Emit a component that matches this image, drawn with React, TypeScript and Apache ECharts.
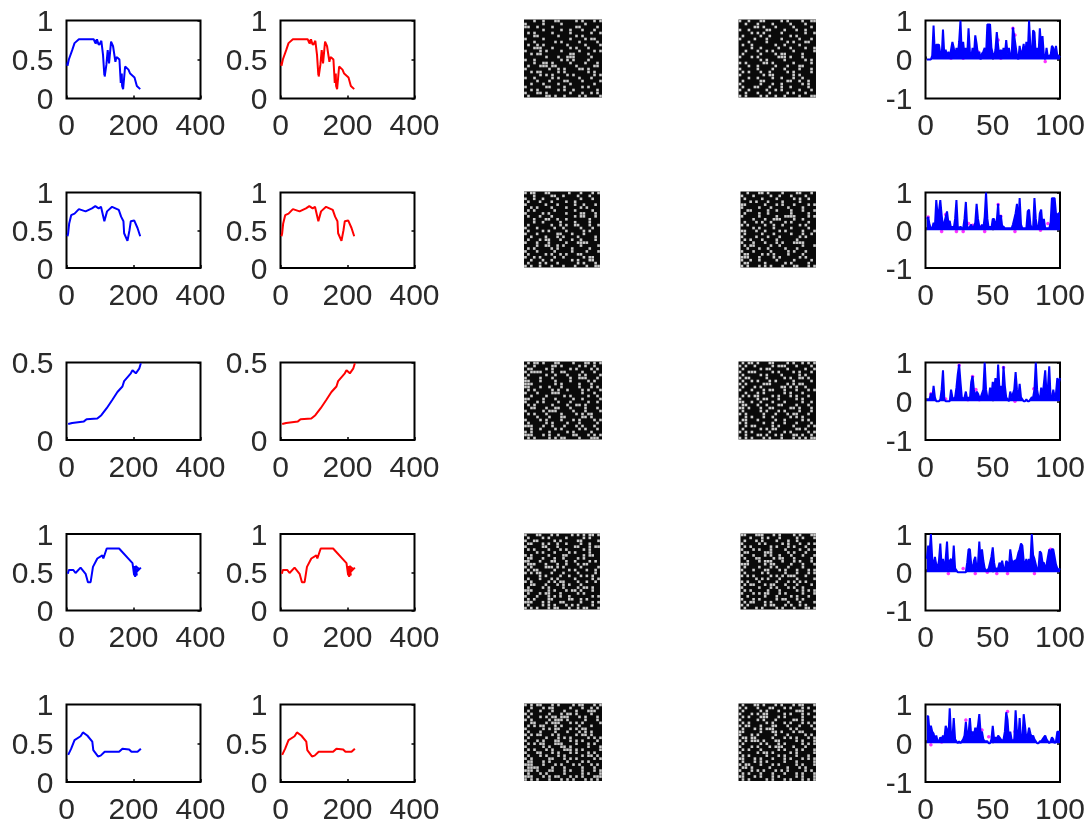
import React, { useEffect, useRef } from "react";
import * as echarts from "echarts";

const curve1: number[][] = [[2,.42],[4,.47],[3,.42],[7,.5],[17,.62],[24,.71],[37,.76],[81,.76],[86,.71],[88,.75],[87,.7],[91,.76],[95,.7],[98,.69],[104,.74],[109,.56],[113,.3],[115,.36],[114,.28],[119,.43],[123,.62],[127,.45],[133,.73],[139,.67],[146,.47],[149,.53],[153,.52],[158,.5],[162,.2],[163,.28],[165,.32],[166,.16],[169,.12],[175,.41],[185,.37],[190,.32],[203,.27],[210,.16],[220,.12]];
const curve2: number[][] = [[3,.42],[5,.46],[8,.59],[14,.7],[24,.72],[37,.78],[57,.75],[76,.79],[86,.82],[96,.79],[103,.81],[113,.62],[121,.75],[136,.81],[156,.77],[163,.68],[170,.62],[172,.46],[182,.36],[188,.5],[192,.62],[202,.63],[212,.53],[220,.42]];
const curve3: number[][] = [[5,.103],[17,.11],[52,.12],[60,.134],[92,.138],[104,.16],[120,.205],[137,.26],[152,.31],[167,.345],[172,.38],[192,.43],[197,.45],[207,.43],[217,.46],[222,.495]];
const curve4: number[][] = [[4,.48],[7,.53],[20,.53],[27,.49],[42,.56],[57,.48],[64,.37],[72,.37],[79,.57],[92,.68],[107,.72],[110,.68],[120,.81],[157,.81],[197,.62],[202,.46],[200,.58],[205,.44],[207,.57],[203,.5],[210,.46],[206,.58],[215,.55],[208,.5],[222,.56]];
const curve5: number[][] = [[5,.35],[14,.43],[24,.54],[42,.59],[49,.64],[62,.6],[77,.52],[80,.41],[94,.33],[102,.34],[114,.39],[157,.39],[167,.43],[187,.42],[194,.39],[212,.39],[222,.43]];

const coef1 = [0,0,0,0,.1,.87,.1,.38,.38,.38,.15,.05,.77,.1,.25,.05,.2,.05,.25,.45,.3,.05,.3,.1,.45,1,.1,.45,.1,.3,.1,.8,.2,.05,.3,.1,.62,.4,.1,.2,0,.15,.2,.3,.1,.9,.9,.9,.3,.15,.05,.25,.7,.35,.05,.25,.1,.3,.1,.5,.15,.3,.1,.05,.82,.6,.35,.1,0,.35,.1,.2,.4,.05,.45,.1,1,.3,.05,.75,.7,.1,.3,.1,.8,.3,.6,.1,0,.3,.05,.1,.1,.35,.3,.1,.35,.1,.1,.05];
const coef2 = [.3,.35,.15,.05,.05,.2,.1,.8,.4,.5,.8,.4,.1,.2,.35,.5,.2,.25,.05,.1,.05,.3,.8,.1,.05,.1,.05,.05,.3,.75,.1,.05,.1,.15,.05,.1,.2,.7,.3,.1,.05,.15,.05,.35,1,.3,.05,.1,.05,.3,.3,.1,.25,.7,.05,.4,.1,.1,.05,.05,.05,.05,.05,.05,.15,.3,.45,.7,.1,.85,.15,.05,.05,.05,.05,.5,.55,.15,.05,.05,.85,.3,.05,.05,.45,.55,.1,.3,.05,.05,.05,.05,.2,.85,.85,.85,.45,.4,.45,.45];
const coef3 = [.05,.05,.05,.2,.05,.4,.1,0,0,0,.05,.3,.8,.05,0,0,0,0,.3,.1,.05,.1,.35,.7,.95,.5,.1,.05,.1,.25,.05,.1,.05,.5,.65,.3,.05,.25,.2,.1,.1,.2,.3,1,.3,.1,.05,.35,.1,.5,.3,.6,.1,.95,.3,.4,.1,.9,.4,.1,.05,0,.25,.1,.2,.3,.75,.3,.1,.45,.1,.05,0,0,.05,0,0,.05,.1,.1,.3,1,.3,.1,.05,.35,.1,.45,.8,.2,.35,.9,.1,.05,.3,.1,.2,.6,.45,.6];
const coef4 = [.35,.7,.5,1,.35,.15,.4,.2,.1,.3,.75,.15,.35,.05,.35,.8,.1,.3,.35,.1,.7,.1,.05,0,0,0,0,0,0,0,.25,.6,.6,.2,.05,.3,.4,.1,.2,.8,.25,.6,.3,.1,.05,.05,.1,.25,.4,.65,.25,.05,.1,.1,.25,.15,.3,.1,.05,.3,.25,.1,.6,.35,.2,.3,.3,.35,.5,.6,.75,.7,.3,.2,.35,.15,.35,.25,1,.45,.35,.2,.05,.1,.55,.5,.25,.25,.05,.2,.4,.6,.45,.6,.6,.4,.2,.1,.05,.1];
const coef5 = [.7,.7,.3,.45,.3,.25,.1,.2,.05,.05,.15,.1,.2,.1,.45,.35,.1,.9,.2,.1,.65,.1,.05,0,.05,0,.05,.1,.2,.55,.2,.25,.65,.2,.3,.2,.4,.3,.45,.75,.25,.3,.1,.05,.05,.05,0,0,.1,.45,.1,.15,.1,.2,.15,.1,.05,.1,.3,.8,.6,.1,.3,.1,.05,.1,.85,.3,.1,.65,.1,.05,.75,.45,.1,.2,.4,.25,.15,.2,.1,.05,0,0,.05,.05,.1,.15,.2,.1,.05,0,.05,.15,.1,0,.05,.3,.3,.3];

const dots1: number[][] = [[19,.03],[26,.27],[28,.03],[39,.2],[54,.5],[56,.03],[65,.8],[66.5,.63],[71.5,.2],[89,-.05]];
const dots2: number[][] = [[2,.35],[12,-.03],[15,.42],[23,-.03],[28,-.03],[32,.18],[35,.13],[41,.09],[44,-.03],[54,.68],[56,.37],[66.5,-.03],[85.5,0],[91,.18]];
const dots3: number[][] = [[4,.19],[15,.06],[25,.93],[31.5,.04],[35,.64],[37.5,.3],[40,.04],[58,.87],[66.5,0],[80.5,.32],[95,.2]];
const dots4: number[][] = [[7.4,.22],[17,-.03],[28,.1],[37,-.03],[46,0],[53,-.03],[61,-.03],[81,-.03],[93,.6]];
const dots5: number[][] = [[4,-.04],[12,.03],[30,.6],[42,.34],[47,.17],[61,.82],[66.5,.3],[66.5,.1]];

const noiseA1 = [
"...#..#...##.....#.#...#.#","#.....#.....#.......#.....","##..#....#.......##.....#.","......#.....#..#...#...#..",".#.#.....#.....#......#..#","...##......#.....#.#......","#.....#........#....#.##..","...#......#.#.....#.....#.",".#..#.#.......#.....#....#","...###...#.....#.#...#....","#....#.#....#.....#....#.#","..#.##.........##....#....",".......#...#..###.....#...",
"#..#........#.#.#....#....","...#..##.#.....#....#...#.",".#...###.##......#.....##.","#.......#..#.#....##.#....","..#.##.....#.#.......#.#..",".....#.#.#....#.#......#.#","#..#.....#.#......#...#...","....#...#....##....#.....#","..#...#....#...#.......#..","#......##....#.....#.#....","..#.#......#.#..#.......#.","#...##.#.......#...#..#.#.",".#.....##.#..#....#.#....#"];
const noiseB1 = [
"#..#...##.....#.#....#..##","..#...#....#.....#....#...",".....##.#...#.....#.....#.","#..#.....##....#...#..#...","....#.#.#.....#.......#..#",".#.....#..#......#.#......","#....#...#....#.....#...#.","...#.....#......#.#...##..",".#..#.......#..#....#.....","....#..#.....#...#....#..#","..#...#..#.#......#......#",".#.....#....#.##.....#....","#...#.#......###.#...#....",
".......#.#.....#......#.#.","#.#.....##.#......#.....#.","...#..#.....#...#...##....","#.....#....#...#....#...#.",".#.#...#..#.....#.#.....#.","#.......#.##......#.#.....","...#..#....#..#...#..#....",".#.....##.......##..#..#..","#......#...#..#......#.#..",".#...##...#...#..#.....#..","#..#.....#..#.#.....#...#.","..#...#...#.....#.#...#...","#.#....#.#..#..#....#...##"];
const noiseA2 = [
"#.##...##......#...#...#.#","...#.....##..#....#...#...","#..#..#....#.......#...#..",".#...#...#....#..#........","#......#...#.....#..#...#.","..#.#....#....#....#.#....",".#.#......#......#.....#..","#.....#.#.....#....##...#.",".#...#...#.......#.##...#.","...#...##..#..#.......#...","...#..#.....#....#....#...",".#.......#..#.#..##...#..#","#...#.....#..#.....#...#..",
".#....#.#.....#.....#.#...","#...#......##...#...#.....","..#....#...#.#....#.....#.",".#...#.##...#...#..#....#.","#...#...#.....#...####....","....#..##..#.#.....#.....#",".#.#.....#.#....#.....#...","#...#.....#.....#....#...#",".#.....#.#..#.#...##......","#..#.#....#..#......#.##..","..#...#..#......#.#...##..",".#...#.#...#......#.#...#.","#.#..#...#...#...#...#..##"];
const noiseB2 = [
"..#...##.#....#....##...#.","#...#.....#..#...#....#...",".#.....#....#.....#.#..#..","...#.#...#....#.....#.....","##......#...#.#...#....#.#","#.....#...#.....#....#....","..##.....#..#....#...#...#",".#....#..#.......#.....#..","#.....#.....#..####....#.#","....#...#..###....#..#....",".#...#.#..#....#.#.....#..","#.#.....#..#..#.....#.#...","....#.#....#.....#.....#..",
"##...#..#....#.#.....#...#",".#.....#...#.....#...#..#.","#....#...#...#......#.#...",".#.#...#....#......#......","#...#...#...#.#...####....",".#.##.....#..#.......#...#","..#...#..#.....#...#......","#...#.....#.....#.#...#...",".##....#.#.#....#....#....","###...#....#.#......#.#...","#..#..#.....#.....#.....#.",".##.....#......#.#.....#..","#.#...#.#.#...#...##...#.#"];
const noiseA3 = [
".#.##.#...##....#...##.#.#","#..#.....##.#.....#.#..#..",".##....#.#.....#.#....#.#.","#.####...#..##.....#...#..",".#.....#..#...#...#.#....#","#....#...#.....#..###...#.","##...#....#....#.....#.#..","###.......#.#.....#...#...","##...#..#...#.....#...#.#.",".#.#.....#.#..#....#.#...#","#...#....###.......#...#..","..#....#.....#.#.....#..#.","##....#...#.....#..#.....#",
"#...#.#....#...#.....#..#.",".#.#.....#....#..##.#.....","..##...#..##...#....#...#.","#.....#.###.....#...#....#",".#.#...#....#....#.#.##...","....#...#...##.....##.#...","#....#.#....#...#.#....#.#",".#.....#.#....#...#.....#.","###...#..#...#...#.#...#..","..#..#....#.#.....#.#...#.","#.#.....#.....#.#.....#...","###...#.#..#....##...#.#.#",".#.#....#.#.##....#...###."];
const noiseB3 = [
".#.##.#...##....#.#..#.#.#","#.#..#.....#.###...#....#.",".#.....#.##.....#.....#..#","#..###.....#.#....#.#...#.",".#.....#.#....#.....#.#...","#.##.....#.....#.#..##.#..",".#..#.#...#.#.....#.....#.","#.#.....###.....#.#.##....",".#...#.#......##.#.#..#...","#...#...#.##...#...#...#.#","..#...#.#......#.#...#....",".#.#.##....#.#...#.#...#..","#.....#.##...#.....#.#....",
"##..#..#...#...#.....#..#.",".##...#..#...##....#...#..","##.#...#..##.....##.#...#.",".#.....#.#...#.#....#...#.","#.#.....#...#...#.##...#..","..#.#...#..#.....#.#.#....",".##...#.....#..#.....#.#..","#.#.....#..#...#...#....#.","..#.##.....#.#....#....#.#",".#.....#.#.##......##.#...","#.#.#.....#....#.#.....#.#","..#...##.#..#.#...##.#..#.","#.#.#...#.#...#...#.#.#.##"];
const noiseA4 = [
"#...##...#.#....#.#.#.##.#",".#....#.#.....#.....#.#...","#..##.....#.#.....##.....#",".##...#.#..#..#....#..#...","#.....##...#.....##...#.##",".#.#....#...#.#.....#.#...","....#.#...#....#.#....#...","#.#.....#....##.....#.##..",".##...#...#..#....#.#.....","##...#...##...#..#....#.#.",".###...#...#..#...#.##....","#.#....###.#.#.....#.....#",".#.##.....#....#.#...#..#.",
"#.#.##...#...#....#.....#.",".....#.#....#..#...#.#.#..",".#...#...#.#.....#.....#.#","#.#.....#.#.##....#..#..#.","..##...#...#.#.#...#......",".#....#.#....#....#.##.#..","###.....#.#...#.##.#...#..",".#...#.##...#.....#.#.....","#...#...#.#.#..#.......#.#",".#.#....##.....##..#.#....","###...#.#...##.....#...#.#",".#....#.#.#...#.#.#....#..","#.#.#...#.##...#..#.##...#"];
const noiseB4 = [
"##...###...#.#....#.#...##","...#...#.#...#.....#.#...#",".#...#.#....#...#..#......","#.....#.#.....#.#...#..#.#",".#.#......#.#...#.#...#...","#...#.#...#....#....#..#.#",".##.....###.....#.#...#...","#...#...#.#..#...#...#...#",".#...##....#.##...#.....#.","..#...#.###...#...#.#...#.","###.....#.##.....#...#...#",".#....#...#.#...#....#....","#...#...##...#.#...#...#.#",
".#.....#.#.....#...#...#.#","#.#.#.....#.#.#.###...#...",".....#.#.#...#.....#.....#","#.#...#.....#...#.#.#.#...",".#.##...#.##...#...#....#.","#.....#...#.#...#.#..#....",".#.#.....#...#.....#.#.#.#","#...#.#.##...#.#.....#...#","..#.....#...#....#.#...#..","#...#.#.....#.##...#.#....",".#.##...#.#.....#...#....#","#.#.....#.##...#.#..#.#...",".#...#.#....#.#...#...##.#"];
const noiseA5 = [
"#.#.##...#.#....#.##...#.#","..#...#.##.....#...#..#.#.",".#...#...#...#...#...###..","#.#.....#...#.##.#....#...",".#...#.#.##.###...#.#...#.","#.#.....#.###.#.....#...#.","..##...#.###...#.#.#.....#",".#.#.##...#.#.....#...#...","#.....#.#.##...#.#.##.....",".#...#....#...#...#.#.#...","#.#.##...#.#.....#.##.#...",".#.....#...#.#.#.....#.#.#","#...#.#...##...#.#.#....#.",
".#.#.##...###....#...#.#..","#.....#.#...##.#.....#...#",".#.#...#.#...###.#.#.....#","#...##...#.#...#.#...#.#..",".#...#.#...#.#.....#.##.#.","#.#.....##...#.#.#.....#.#",".##...#.#.....#....#.#....","###...#...#.#...#.#...#.#.",".####....#...#.....#...#..","###.#...##...#.#...#...#.#",".#...#.#.....#.....#.#...#","###...#.#.##...#.#.#...###","#.#.#...#...#.#.#...#.#.#."];
const noiseB5 = [
".#...##.#...#.#...#.##...#","#.#...#...##...#.#...#.#..",".#.....#.#...#.....###...#","#...#.#.##.....#.#...#.#..",".#.#...###...#.#.....#...#","#.....#.#...#.....##.#....",".#.#.....#.#...#.#...#.#.#","#.##...#...##...#...#...#.",".#...#.#.###.....#.#.....#","##.....#...##.#...#.##....","#...#.#.....#...#.....#.#.",".##.##.....#...#.#.#...#.#","#.#.###.#...##.....#.#...#",
".#.....#.#...#.#.....#.#.#","#...#.#...#.###...#...#...",".#.#...#.....#.#...#.#...#","#.....#.##.#.....#.#.....#",".#.#.....#...#.#...#...#..","##...#.#...#...#.#...#.#.#",".#...#.#.#.....#...#.....#","#.##...#...#.#.....#.#...#",".##.#.....#.....#...#.#...","#...#.#.#...#.#.#.....#.#.",".#.#...#...#...#...#.#...#","##...#.#...#.#.....#.#...#",".#.#.....#.#...#.#...#.#.#"];

const curves = [curve1, curve2, curve3, curve4, curve5];
const coefs = [coef1, coef2, coef3, coef4, coef5];
const dotLists = [dots1, dots2, dots3, dots4, dots5];
const noisesA = [noiseA1, noiseA2, noiseA3, noiseA4, noiseA5];
const noisesB = [noiseB1, noiseB2, noiseB3, noiseB4, noiseB5];
const curveYMax = [1, 1, 0.5, 1, 1];
const curveYStep = [0.5, 0.5, 0.5, 0.5, 0.5];

const rowBox = [[20.5, 98.5], [192.5, 268], [362.5, 440], [534, 610.5], [704.5, 782]];
const noiseBox = [
  [19.5, 97.5, 524, 602, 738.5, 816],
  [191.5, 267.5, 524, 600, 740.5, 816],
  [361.5, 439.5, 524, 602, 738.5, 816],
  [533.5, 609.5, 524, 600, 740.5, 816],
  [703.5, 781, 524, 602, 738.5, 816],
];

const textStyle = { color: "#2a2a2a", fontSize: 30, fontFamily: "Liberation Sans" };

function buildOption() {
  const grid: any[] = [];
  const xAxis: any[] = [];
  const yAxis: any[] = [];
  const series: any[] = [];

  const addPlot = (l: number, t: number, r: number, b: number, xMax: number, xStep: number, yMin: number, yMax: number, yStep: number) => {
    const g = grid.length;
    grid.push({ show: true, left: l, top: t, width: r - l, height: b - t, borderColor: "#000", borderWidth: 2, backgroundColor: "#fff" });
    xAxis.push({
      type: "value", gridIndex: g, min: 0, max: xMax, interval: xStep,
      splitLine: { show: false }, axisLine: { show: false },
      axisTick: { inside: true, length: 3, lineStyle: { color: "#000", width: 1.5 } },
      axisLabel: { ...textStyle, margin: 11 },
    });
    const yi = yAxis.length;
    yAxis.push({
      type: "value", gridIndex: g, min: yMin, max: yMax, interval: yStep,
      splitLine: { show: false }, axisLine: { show: false },
      axisTick: { show: false },
      axisLabel: { ...textStyle, margin: 13 },
    });
    yAxis.push({
      type: "value", gridIndex: g, position: "right", min: yMin, max: yMax, interval: yStep,
      splitLine: { show: false }, axisLine: { show: false },
      axisTick: { inside: true, length: 3, lineStyle: { color: "#000", width: 1.5 } },
      axisLabel: { show: false },
    });
    return { g, yi };
  };

  const addLine = (ax: { g: number; yi: number }, data: number[][], color: string, width: number, fill: boolean) => {
    series.push({
      type: "line", xAxisIndex: ax.g, yAxisIndex: ax.yi, data, showSymbol: false, silent: true,
      lineStyle: { color, width }, itemStyle: { color }, clip: true,
      ...(fill ? { areaStyle: { color, opacity: 1, origin: 0 } } : {}),
    });
  };

  const addNoise = (l: number, t: number, r: number, b: number, rows: string[]) => {
    const g = grid.length;
    grid.push({ show: true, left: l, top: t, width: r - l, height: b - t, borderWidth: 0, backgroundColor: "#0a0a0a" });
    xAxis.push({ type: "value", gridIndex: g, min: 0, max: rows[0].length, show: false });
    yAxis.push({ type: "value", gridIndex: g, min: 0, max: rows.length, inverse: true, show: false });
    const yi = yAxis.length - 1;
    const pts: number[][] = [];
    rows.forEach((row, ry) => {
      row.split("").forEach((c, rx) => { if (c === "#") pts.push([rx + 0.5, ry + 0.5]); });
    });
    series.push({
      type: "scatter", xAxisIndex: g, yAxisIndex: yi, data: pts, symbol: "rect", symbolSize: 2.6, silent: true,
      itemStyle: { color: "#e0e0e0", opacity: 0.9 },
    });
  };

  for (let i = 0; i < 5; i++) {
    const [t, b] = rowBox[i];
    const a1 = addPlot(66.5, t, 200.5, b, 400, 200, 0, curveYMax[i], curveYStep[i]);
    addLine(a1, curves[i], "#0000ff", 2, false);
    const a2 = addPlot(280.5, t, 414.5, b, 400, 200, 0, curveYMax[i], curveYStep[i]);
    addLine(a2, curves[i], "#ff0000", 2, false);
    const [nt, nb, al, ar, bl, br] = noiseBox[i];
    addNoise(al, nt, ar, nb, noisesA[i]);
    addNoise(bl, nt, br, nb, noisesB[i]);
    const a5 = addPlot(925.5, t, 1060, b, 100, 50, -1, 1, 1);
    series.push({
      type: "scatter", xAxisIndex: a5.g, yAxisIndex: a5.yi, data: dotLists[i], symbolSize: 3.5, silent: true,
      itemStyle: { color: "#ff00ff" },
    });
    addLine(a5, coefs[i].map((v, k) => [k + 1, v]), "#0000ff", 2, true);
  }
  return { animation: false, grid, xAxis, yAxis, series };
}

export default function App() {
  const ref = useRef<HTMLDivElement>(null);
  useEffect(() => {
    const chart = echarts.init(ref.current!, undefined, { renderer: "svg" });
    chart.setOption(buildOption() as any);
    return () => chart.dispose();
  }, []);
  return (
    <div
      ref={ref}
      style={{ position: "absolute", left: 0, top: 0, width: 1091, height: 823, background: "#fff", filter: "blur(0.5px)" }}
    />
  );
}
